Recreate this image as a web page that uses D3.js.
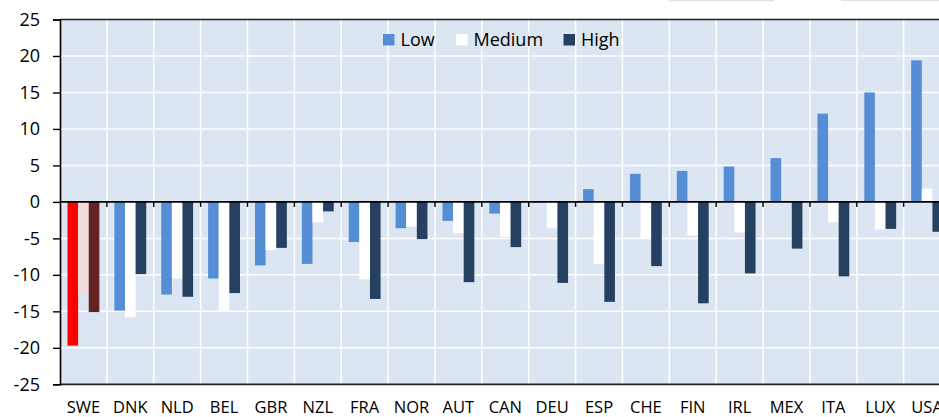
<!DOCTYPE html>
<html>
<head>
<meta charset="utf-8">
<script src="https://cdn.jsdelivr.net/npm/d3@7"></script>
<style>
  html, body { margin: 0; padding: 0; background: #fff; overflow: hidden; }
  svg { display: block; font-family: "Open Sans", sans-serif; }
</style>
</head>
<body>
<svg id="chart"></svg>
<script>
const countries = ['SWE', 'DNK', 'NLD', 'BEL', 'GBR', 'NZL', 'FRA', 'NOR', 'AUT', 'CAN',
  'DEU', 'ESP', 'CHE', 'FIN', 'IRL', 'MEX', 'ITA', 'LUX', 'USA'];
const low = [-19.7, -14.9, -12.7, -10.5, -8.7, -8.5, -5.5, -3.6, -2.6, -1.6,
  0, 1.75, 3.85, 4.25, 4.85, 6.0, 12.1, 15.0, 19.4];
const medium = [-12.6, -15.8, -10.5, -14.9, -6.6, -2.8, -10.6, -3.4, -4.3, -4.8,
  -3.6, -8.5, -4.9, -4.6, -4.2, 0, -2.8, -3.8, 1.8];
const high = [-15.1, -9.9, -13.0, -12.5, -6.3, -1.3, -13.3, -5.1, -11.0, -6.2,
  -11.1, -13.7, -8.8, -13.9, -9.8, -6.4, -10.2, -3.7, -4.1];
const seriesNames = ['Low', 'Medium', 'High'];
const yTicks = [-25, -20, -15, -10, -5, 0, 5, 10, 15, 20, 25];

const width = 939, height = 417;
const margin = { left: 60, top: 19.5, bottom: 32.7 };
const catWidth = 46.87;
const plotRight = margin.left + catWidth * countries.length; // runs past the window edge

const colors = { Low: '#558ed5', Medium: '#ffffff', High: '#254061' };
const sweColors = { Low: '#ff0000', Medium: '#f2dcdb', High: '#632523' };

const rows = countries.map((c, i) => ({
  country: c,
  values: [
    { key: 'Low', value: low[i] },
    { key: 'Medium', value: medium[i] },
    { key: 'High', value: high[i] }
  ]
}));

const svg = d3.select('#chart')
  .attr('width', width)
  .attr('height', height);

// faint strips along the top edge
svg.append('rect').attr('x', 669).attr('y', 0).attr('width', 105).attr('height', 1.2).attr('fill', '#e4e4e4');
svg.append('rect').attr('x', 841).attr('y', 0).attr('width', 98).attr('height', 1.2).attr('fill', '#e4e4e4');

const x = d3.scaleBand()
  .domain(countries)
  .range([margin.left, plotRight])
  .padding(0);

const xInner = d3.scaleBand()
  .domain(seriesNames)
  .range([7.5, catWidth - 7.5])
  .padding(0);

const y = d3.scaleLinear()
  .domain([-25, 25])
  .range([height - margin.bottom, margin.top]);

// plot background
svg.append('rect')
  .attr('x', margin.left)
  .attr('y', margin.top)
  .attr('width', plotRight - margin.left)
  .attr('height', y(-25) - y(25))
  .attr('fill', '#dce6f2');

// gridlines
svg.append('g')
  .selectAll('line')
  .data(yTicks.filter(d => d !== 0 && Math.abs(d) !== 25))
  .join('line')
  .attr('x1', margin.left).attr('x2', plotRight)
  .attr('y1', d => y(d)).attr('y2', d => y(d))
  .attr('stroke', '#fff')
  .attr('stroke-width', 1.5);

svg.append('g')
  .selectAll('line')
  .data(countries.slice(1))
  .join('line')
  .attr('x1', d => x(d)).attr('x2', d => x(d))
  .attr('y1', margin.top).attr('y2', y(-25))
  .attr('stroke', '#fff')
  .attr('stroke-width', 1.5);

// bars
const groups = svg.append('g')
  .selectAll('g')
  .data(rows)
  .join('g')
  .attr('transform', d => `translate(${x(d.country)},0)`);

groups.selectAll('rect')
  .data(d => d.values.map(v => ({ ...v, country: d.country })))
  .join('rect')
  .attr('x', d => xInner(d.key))
  .attr('width', xInner.bandwidth())
  .attr('y', d => y(Math.max(0, d.value)))
  .attr('height', d => Math.abs(y(d.value) - y(0)))
  .attr('fill', d => (d.country === 'SWE' ? sweColors : colors)[d.key]);

// frame
svg.append('line')
  .attr('x1', margin.left).attr('x2', plotRight)
  .attr('y1', y(25)).attr('y2', y(25))
  .attr('stroke', '#222').attr('stroke-width', 1.6);
svg.append('line')
  .attr('x1', margin.left).attr('x2', plotRight)
  .attr('y1', y(-25)).attr('y2', y(-25))
  .attr('stroke', '#222').attr('stroke-width', 1.8);

// zero axis with category ticks below
const xAxis = svg.append('g')
  .attr('transform', `translate(0,${y(0)})`);
xAxis.append('line')
  .attr('x1', margin.left).attr('x2', plotRight)
  .attr('stroke', '#000').attr('stroke-width', 1.6);
xAxis.selectAll('.tick')
  .data(countries.slice(1))
  .join('line')
  .attr('class', 'tick')
  .attr('x1', d => x(d)).attr('x2', d => x(d))
  .attr('y1', 0).attr('y2', 5)
  .attr('stroke', '#000').attr('stroke-width', 1.4);

// category labels
svg.append('g')
  .selectAll('text')
  .data(countries)
  .join('text')
  .attr('x', d => x(d) + catWidth / 2)
  .attr('y', 413)
  .attr('text-anchor', 'middle')
  .attr('font-size', 16.5)
  .attr('fill', '#000')
  .text(d => d);

// y axis
const yAxis = svg.append('g')
  .attr('transform', `translate(${margin.left},0)`)
  .call(d3.axisLeft(y).tickValues(yTicks).tickSize(7).tickPadding(13).tickFormat(d3.format('d')));
yAxis.select('.domain').attr('stroke', '#000').attr('stroke-width', 1.6);
yAxis.selectAll('.tick line').attr('stroke', '#000').attr('stroke-width', 1.4);
yAxis.selectAll('.tick text')
  .attr('font-size', 18)
  .attr('font-family', '"Open Sans", sans-serif')
  .attr('fill', '#000')
  .text(d => d < 0 ? '-' + Math.abs(d) : d);

// legend
const legendItems = [
  { key: 'Low', x: 383 },
  { key: 'Medium', x: 456 },
  { key: 'High', x: 563.5 }
];
const legend = svg.append('g');
const item = legend.selectAll('g')
  .data(legendItems)
  .join('g')
  .attr('transform', d => `translate(${d.x},34)`);
item.append('rect')
  .attr('width', 11.5).attr('height', 11.5)
  .attr('fill', d => colors[d.key]);
item.append('text')
  .attr('x', 17.5).attr('y', 12)
  .attr('font-size', 18)
  .attr('fill', '#000')
  .text(d => d.key);
</script>
</body>
</html>
